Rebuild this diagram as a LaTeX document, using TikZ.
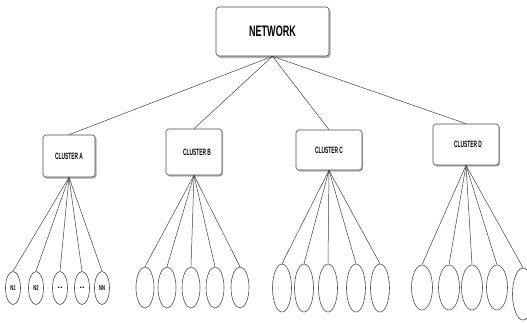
\documentclass[tikz,border=0pt]{standalone}
\usepackage{fontspec}
\setmainfont{Liberation Sans}
\usepackage{graphicx}
\usetikzlibrary{shapes.geometric}
\begin{document}
\begin{tikzpicture}[x=1pt,y=-1pt,
  box/.style={draw=black!70,line width=0.6pt,rounded corners=3pt,fill=white,inner sep=0pt},
  leaf/.style={draw=black!70,line width=0.6pt,ellipse,inner sep=0pt,font=\bfseries\fontsize{4.5}{4.5}\selectfont},
  link/.style={draw=black!75,line width=0.5pt},
  shade/.style={fill=black!30,rounded corners=3pt}]
\useasboundingbox (0,0) rectangle (527,322);
% shadows
\fill[shade] (217.5,8.5) rectangle (330.5,58);
\fill[shade] (44,136) rectangle (96.5,178.5);
\fill[shade] (167,130) rectangle (223,176.5);
\fill[shade] (297,131) rectangle (363,171.5);
\fill[shade] (434,125) rectangle (500,166.5);
% boxes
\node[box,minimum width=113pt,minimum height=49pt] (net) at (272.5,31.5)
  {\scalebox{0.95}[1.6]{\bfseries\fontsize{9.5}{9.5}\selectfont NETWORK}};
\node[box,minimum width=52pt,minimum height=42pt] (ca) at (69,156)
  {\scalebox{0.9}[1.7]{\bfseries\fontsize{5.4}{5.4}\selectfont CLUSTER A}};
\node[box,minimum width=56pt,minimum height=46pt] (cb) at (194,152)
  {\hspace*{6pt}\scalebox{0.9}[1.7]{\bfseries\fontsize{5.4}{5.4}\selectfont CLUSTER B}};
\node[box,minimum width=66pt,minimum height=40pt] (cc) at (329,150)
  {\scalebox{0.9}[1.7]{\bfseries\fontsize{5.4}{5.4}\selectfont CLUSTER C}};
\node[box,minimum width=66pt,minimum height=41pt] (cd) at (466,144.5)
  {\hspace*{4pt}\scalebox{0.9}[1.7]{\bfseries\fontsize{5.4}{5.4}\selectfont CLUSTER D}};
% top links
\foreach \c in {ca,cb,cc,cd} \draw[link] (net.south) -- (\c.north);
% leaves A
\foreach \i/\x/\t in {1/13/N1,2/36/N2,5/102/NN}
  \node[leaf,minimum width=15pt,minimum height=33pt] (a\i) at (\x,288) {\scalebox{0.9}[1.6]{\t}};
\foreach \i/\x in {3/60,4/82}
  \node[leaf,minimum width=15pt,minimum height=33pt,font=\bfseries\fontsize{9}{9}\selectfont] (a\i) at (\x,288) {\raisebox{-1pt}{..}};
% leaves B
\foreach \i/\x in {1/145,2/167,3/191,4/215,5/240}
  \node[leaf,minimum width=18pt,minimum height=41pt] (b\i) at (\x,287.5) {};
% leaves C
\foreach \i/\x in {1/282,2/304,3/328,4/356,5/380}
  \node[leaf,minimum width=19pt,minimum height=48pt] (c\i) at (\x,288) {};
% leaves D
\foreach \i/\x in {1/422,2/449,3/472,4/497}
  \node[leaf,minimum width=21pt,minimum height=45pt] (d\i) at (\x,287.5) {};
\node[leaf,minimum width=21pt,minimum height=52pt] (d5) at (523,294) {};
% links
\foreach \i in {1,...,5} {
  \draw[link] (ca.south) -- (a\i.north);
  \draw[link] (cb.south) -- (b\i.north);
  \draw[link] (cc.south) -- (c\i.north);
  \draw[link] (cd.south) -- (d\i.north);
}
\end{tikzpicture}
\end{document}
